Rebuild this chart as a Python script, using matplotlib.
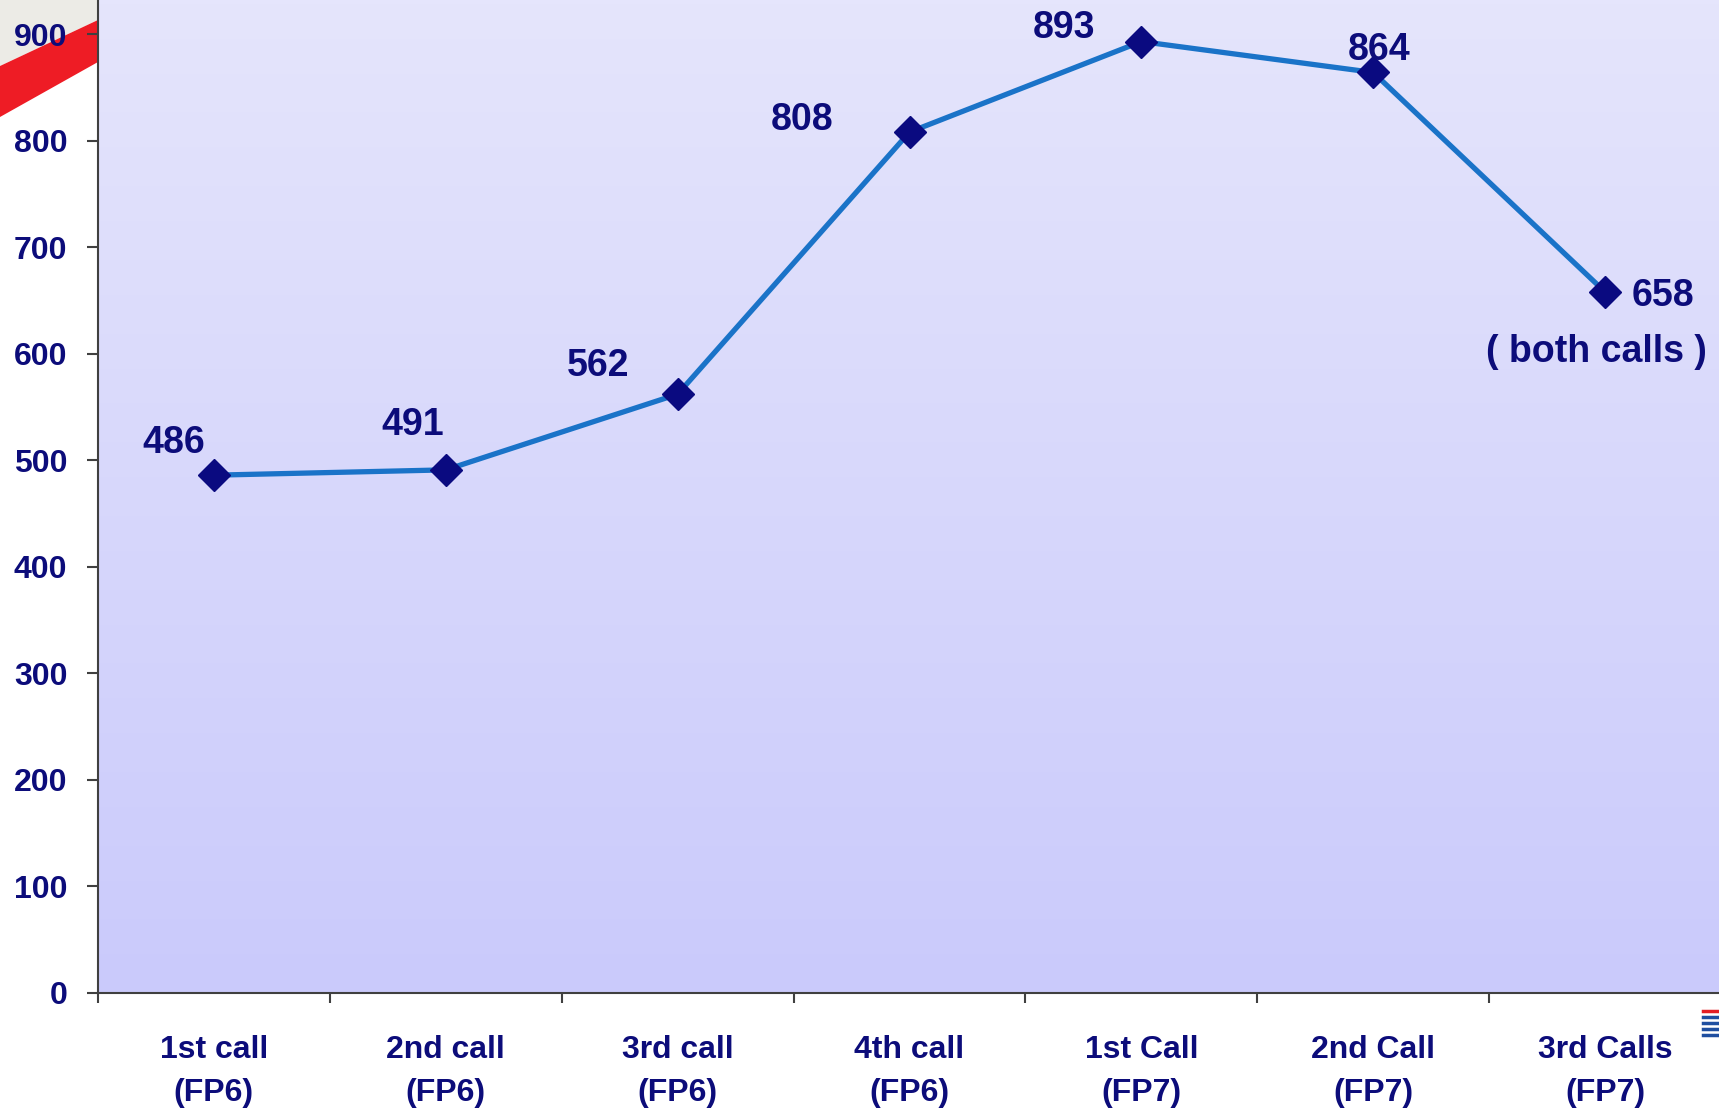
import numpy as np
import matplotlib.pyplot as plt
from matplotlib.patches import Polygon
from matplotlib.colors import LinearSegmentedColormap

calls = ['1st call\n(FP6)', '2nd call\n(FP6)', '3rd call\n(FP6)', '4th call\n(FP6)',
         '1st Call\n(FP7)', '2nd Call\n(FP7)', '3rd Calls\n(FP7)']
values = [486, 491, 562, 808, 893, 864, 658]
# label offsets in points (dx, dy)
offsets = [(-29, 23), (-24, 32), (-57, 20), (-77, 9), (-56, 10), (4, 16), (42, -3)]

navy = '#0c0c7a'
plt.rcParams['font.family'] = ['Liberation Sans', 'DejaVu Sans']
plt.rcParams['font.weight'] = 'bold'

fig = plt.figure(figsize=(17.19, 11.14), dpi=100)
fig.patch.set_facecolor('white')

# decoration top-left: grey corner + red stripe
edge = 98 / 1719
fig.patches.append(Polygon([(0, 1), (edge, 1), (edge, 1 - 20/1114), (0, 1 - 66/1114)],
                           closed=True, transform=fig.transFigure, facecolor='#ecebe6',
                           edgecolor='none', zorder=-1))
fig.patches.append(Polygon([(0, 1 - 66/1114), (edge, 1 - 20/1114), (edge, 1 - 62/1114),
                            (0, 1 - 117/1114)], closed=True, transform=fig.transFigure,
                           facecolor='#ee1c25', edgecolor='none', zorder=-1))

ax = fig.add_axes([98/1719, 121/1114, 1623/1719, 993/1114])
x = np.arange(len(values))
ax.set_xlim(-0.5, len(values) - 0.5)
ax.set_ylim(0, 932)

# gradient background
cmap = LinearSegmentedColormap.from_list('bg', ['#cacafb', '#e5e5fc'])
grad = np.linspace(0, 1, 256).reshape(-1, 1)
ax.imshow(grad, cmap=cmap, aspect='auto', origin='lower',
          extent=[-0.5, len(values) - 0.5, 0, 932], zorder=0)

ax.plot(x, values, color='#1a73c8', linewidth=3.8, zorder=2)
ax.plot(x, values, linestyle='none', marker='D', markersize=16,
        color='#0a0a80', zorder=3)

for xi, v, (dx, dy) in zip(x, values, offsets):
    ax.annotate(str(v), (xi, v), xytext=(dx, dy), textcoords='offset points',
                ha='center', va='center', fontsize=27, fontweight='bold', color=navy)
ax.annotate('( both calls )', (x[-1], values[-1]), xytext=(-6, -43),
            textcoords='offset points', ha='center', va='center',
            fontsize=27, fontweight='bold', color=navy)

ax.set_yticks(range(0, 1000, 100))
ax.set_xticks(x)
ax.set_xticklabels(calls, linespacing=1.6)
ax.set_xticks(np.arange(-0.5, len(values) + 0.5, 1), minor=True)
ax.tick_params(axis='y', length=8, width=1.5, color='#404040', pad=14,
               labelsize=23, labelcolor=navy)
ax.tick_params(axis='x', which='major', length=0, pad=30, labelsize=23, labelcolor=navy)
ax.tick_params(axis='x', which='minor', length=7, width=1.5, color='#404040')
for lab in ax.get_xticklabels() + ax.get_yticklabels():
    lab.set_fontweight('bold')

for s in ['top', 'right']:
    ax.spines[s].set_visible(False)
for s in ['left', 'bottom']:
    ax.spines[s].set_color('#404040')
    ax.spines[s].set_linewidth(1.5)

# small logo stripes bottom-right
for i, c in enumerate(['#e31e24', '#1f4fa0', '#1f4fa0', '#1f4fa0', '#1f4fa0']):
    fig.add_artist(plt.Line2D([1703/1719, 1.0], [1 - (1011 + i*6)/1114] * 2,
                              transform=fig.transFigure, color=c, linewidth=2.5))

fig.savefig('out.png', dpi=100)
